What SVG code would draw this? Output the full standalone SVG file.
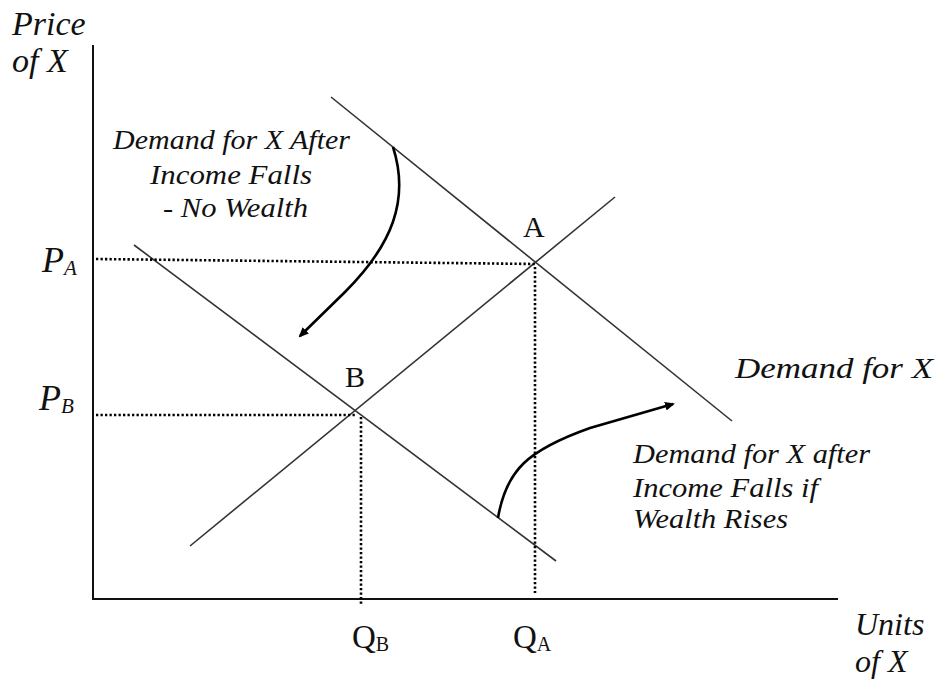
<svg xmlns="http://www.w3.org/2000/svg" width="936" height="685" viewBox="0 0 936 685">
<style>
.ax{stroke:#111;stroke-width:2;fill:none}
.ln{stroke:#333;stroke-width:1.6;fill:none}
.dot{stroke:#000;stroke-width:2.6;stroke-dasharray:2.3 2.2;fill:none}
.arr{stroke:#000;stroke-width:2.6;fill:none}
.it{font-family:"Liberation Serif","Times New Roman",serif;font-style:italic;fill:#111}
.up{font-family:"Liberation Serif","Times New Roman",serif;fill:#111}
</style>
<defs>
<marker id="ah" markerWidth="10" markerHeight="10" refX="8" refY="5" orient="auto" markerUnits="userSpaceOnUse">
<path d="M0,0.5 L10,5 L0,9.5 Z" fill="#000"/>
</marker>
</defs>
<g id="axes">
<line class="ax" x1="93" y1="45" x2="93" y2="600"/>
<line class="ax" x1="92" y1="599" x2="838" y2="599"/>
</g>
<g id="curves">
<line id="demand" class="ln" x1="331" y1="97" x2="732" y2="421"/>
<line id="demand-new" class="ln" x1="134" y1="245" x2="556" y2="561"/>
<line id="supply" class="ln" x1="190" y1="546" x2="615" y2="197"/>
</g>
<g id="guides">
<line class="dot" x1="96" y1="259" x2="536" y2="264"/>
<line class="dot" x1="96" y1="415" x2="356" y2="415"/>
<line class="dot" x1="535" y1="267" x2="535" y2="593"/>
<line class="dot" x1="361" y1="417" x2="361" y2="605"/>
</g>
<g id="connectors">
<path class="arr" d="M393,147 C410,200 392,245 345,292 L300,336" marker-end="url(#ah)"/>
<path class="arr" d="M498,518 C506,470 528,450 590,428 L673,404" marker-end="url(#ah)"/>
</g>
<g id="labels">
<text class="it" x="12" y="35" font-size="34">Price</text>
<text class="it" x="12" y="72" font-size="34">of X</text>
<text class="it" x="42" y="272" font-size="36">P<tspan font-size="21" dy="3">A</tspan></text>
<text class="it" x="39" y="410" font-size="36">P<tspan font-size="21" dy="3">B</tspan></text>
<text class="up" x="523" y="237" font-size="30">A</text>
<text class="up" x="345" y="387" font-size="30">B</text>
<text class="up" x="352" y="648" font-size="33">Q<tspan font-size="20" dy="3">B</tspan></text>
<text class="up" x="513" y="648" font-size="33">Q<tspan font-size="20" dy="3">A</tspan></text>
<text class="it" x="855" y="635" font-size="32">Units</text>
<text class="it" x="855" y="672" font-size="32">of X</text>
<text class="it" x="735" y="378" font-size="30" textLength="198" lengthAdjust="spacingAndGlyphs">Demand for X</text>
<g id="label-left" class="it" font-size="27">
<text x="113" y="149" textLength="237" lengthAdjust="spacingAndGlyphs">Demand for X After</text>
<text x="150" y="184" textLength="162" lengthAdjust="spacingAndGlyphs">Income Falls</text>
<text x="163" y="217" textLength="145" lengthAdjust="spacingAndGlyphs">- No Wealth</text>
</g>
<g id="label-right" class="it" font-size="27">
<text x="633" y="463" textLength="237" lengthAdjust="spacingAndGlyphs">Demand for X after</text>
<text x="633" y="497" textLength="185" lengthAdjust="spacingAndGlyphs">Income Falls if</text>
<text x="633" y="528" textLength="155" lengthAdjust="spacingAndGlyphs">Wealth Rises</text>
</g>
</g>
</svg>
